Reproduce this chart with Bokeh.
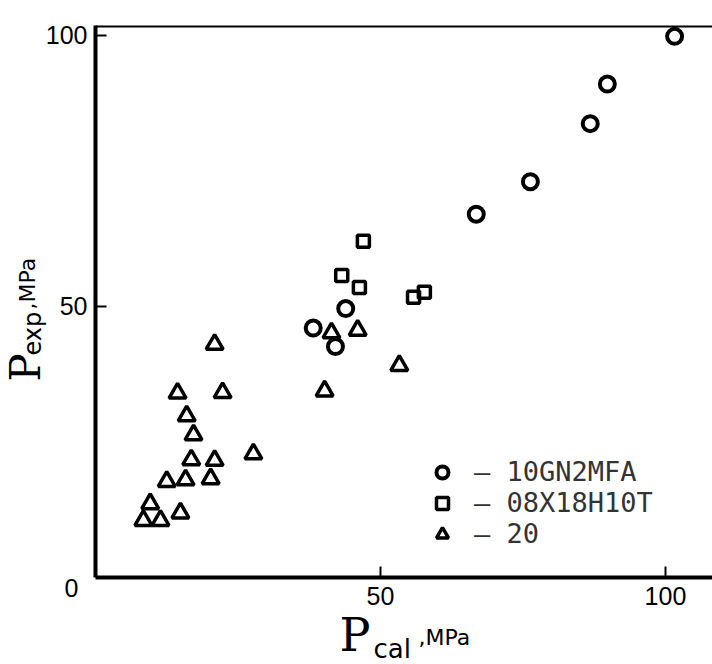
import math
from bokeh.plotting import figure
from bokeh.models import Range1d, FixedTicker, Span, Legend, LegendItem
from bokeh.core.properties import value
from bokeh.embed import file_html
from bokeh.resources import INLINE

# ---- data ----
series_names = ["10GN2MFA", "08X18H10T", "20"]

circ_x = [38.2, 42.1, 43.9, 66.8, 76.3, 86.8, 89.8, 101.6]
circ_y = [46.0, 42.6, 49.6, 67.0, 73.0, 83.7, 91.0, 99.8]

sq_x = [43.2, 46.3, 47.0, 55.8, 57.7]
sq_y = [55.7, 53.5, 62.0, 51.7, 52.6]

tri_x = [20.9, 14.4, 22.3, 16.0, 17.2, 27.7, 16.8, 20.9, 12.5, 15.8,
         20.2, 9.6, 14.9, 8.4, 11.4, 41.4, 46.0, 53.3, 40.2]
tri_y = [43.0, 34.0, 34.1, 29.8, 26.3, 22.8, 21.7, 21.6, 17.7, 18.0,
         18.2, 13.6, 11.9, 10.5, 10.5, 45.1, 45.6, 39.1, 34.4]

x_ticks = [50, 100]
y_ticks = [50, 100]
tick_labels = {50: "50", 100: "100"}
origin_label = "0"

x_label = ("P", "cal", ",MPa")
y_label = ("P", "exp", ",MPa")

X_END = 108.25
Y_END = 101.8

p = figure(width=712, height=664, output_backend="svg", toolbar_location=None,
           x_range=Range1d(0, X_END), y_range=Range1d(0, Y_END),
           min_border_left=95, min_border_right=0, min_border_top=25,
           min_border_bottom=87)
p.grid.visible = False
p.outline_line_color = None
p.background_fill_color = "white"
p.border_fill_color = "white"

for ax, ticks in ((p.xaxis[0], x_ticks), (p.yaxis[0], y_ticks)):
    ax.ticker = FixedTicker(ticks=ticks)
    ax.major_label_overrides = {t: tick_labels[t] for t in ticks}
    ax.axis_line_width = 4
    ax.axis_line_color = "black"
    ax.major_tick_in = 11
    ax.major_tick_out = 0
    ax.major_tick_line_width = 2
    ax.minor_tick_line_color = None
    ax.major_label_text_font = "Liberation Sans"
    ax.major_label_text_font_size = "25px"
    ax.major_label_text_color = "black"
p.xaxis[0].major_label_standoff = 9
p.yaxis[0].major_label_standoff = 8
p.yaxis[0].major_label_orientation = "horizontal"

p.add_layout(Span(location=Y_END, dimension="width", line_color="black", line_width=4))

r_c = p.scatter(circ_x, circ_y, marker="circle", size=15, fill_color=None,
                line_color="black", line_width=4)
r_s = p.scatter(sq_x, sq_y, marker="square", size=12, fill_color=None,
                line_color="black", line_width=3.5)
r_t = p.scatter(tri_x, tri_y, marker="triangle", size=17, fill_color=None,
                line_color="black", line_width=3.5)

legend = Legend(items=[LegendItem(label="\u2013 " + n, renderers=[r])
                       for n, r in zip(series_names, (r_c, r_s, r_t))],
                location=(332, 28), padding=0, margin=0, spacing=0,
                glyph_width=30, glyph_height=30, label_standoff=17,
                label_text_font="DejaVu Sans Mono", label_text_font_size="27px",
                label_text_color="#333333", border_line_color=None,
                background_fill_alpha=0)
p.add_layout(legend)

# px per data unit
KX = 617 / X_END
KY = 552 / Y_END

def lab(sx, sy, text, font, size, angle=0.0, align="left", baseline="alphabetic"):
    p.text(x=[sx / KX], y=[sy / KY], text=[text], angle=angle,
           text_font=value(font), text_font_size=value(size), text_color="black",
           text_align=align, text_baseline=baseline, level="overlay")

# origin label
lab(-24, -10, origin_label, "Liberation Sans", "25px", align="center", baseline="middle")

# x axis label
lab(244, -57, x_label[0], "DejaVu Serif", "46px")
lab(278, -71, x_label[1], "DejaVu Sans", "26px")
lab(323, -60, x_label[2], "DejaVu Sans", "22px")

# y axis label (rotated)
a = math.pi / 2
lab(-70, 196, y_label[0], "DejaVu Serif", "42px", angle=a)
lab(-63, 222, y_label[1], "DejaVu Sans", "24px", angle=a)
lab(-68, 268, y_label[2], "DejaVu Sans", "22px", angle=a)

open("out.html", "w").write(file_html(p, INLINE))
